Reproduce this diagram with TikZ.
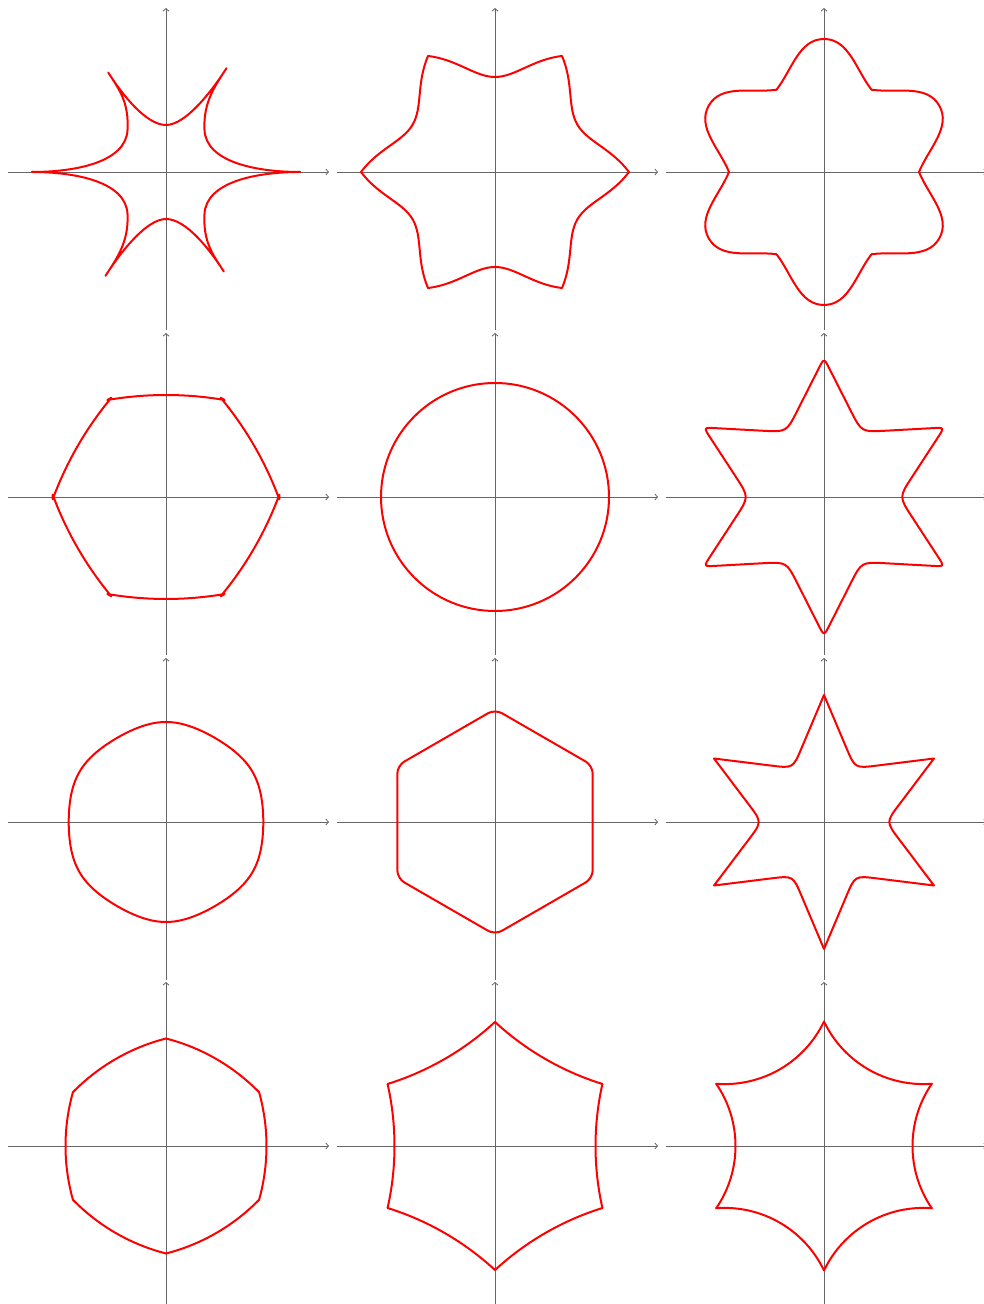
\documentclass[tikz,border=0pt]{standalone}
\usepackage{tikz}
\usetikzlibrary{calc,arrows.meta}

\newcommand{\panelaxes}{%
  \draw [axisline] (-158,0) -- (163,0);
  \draw [axisline] (0,-158) -- (0,164);}
% one quarter of the cusped star, cusp at (#2,#3)
\newcommand{\cuspquad}[3]{%
  \draw [curve,#1] (134,0) .. controls (90,0) and (40,10) .. (38.5,42)
    .. controls (37,70) and ({#2-11},{#3-17}) .. (#2,#3)
    .. controls ({#2-14},{#3-22}) and (20,47) .. (0,47);}
% tip at angle #1, radius #2, dips at +-30 with radius #3
\newcommand{\petal}[7]{%
  \draw [curve,rotate=#1] (-30:#3)
    .. controls ({#3*cos(30)+#7*cos(#6-30)},{-#3*sin(30)+#7*sin(#6-30)})
       and ({#2-#5*cos(#4)},{-#5*sin(#4)}) .. (#2,0)
    .. controls ({#2-#5*cos(#4)},{#5*sin(#4)})
       and ({#3*cos(30)+#7*cos(#6-30)},{#3*sin(30)-#7*sin(#6-30)}) .. (30:#3);}
\newcommand{\roundstar}[5]{%
  \draw [curve] ($(#1:#2)!#4!(#1+30:#3)$)
  \foreach \k in {0,...,5} {
    -- ($(#1+60*\k+30:#3)!#5!(#1+60*\k:#2)$)
    .. controls (#1+60*\k+30:#3) .. ($(#1+60*\k+30:#3)!#5!(#1+60*\k+60:#2)$)
    -- ($(#1+60*\k+60:#2)!#4!(#1+60*\k+30:#3)$)
    .. controls (#1+60*\k+60:#2) .. ($(#1+60*\k+60:#2)!#4!(#1+60*\k+90:#3)$)
  } -- cycle;}

\begin{document}
\begin{tikzpicture}[x=0.75pt,y=0.75pt,
    axisline/.style={black!60, line width=0.6pt, -{Straight Barb[length=2pt,width=4.5pt]}},
    curve/.style={red, line width=1.5pt, line join=round, line cap=round}]
  \useasboundingbox (0,0) rectangle (984,1304);

  % row 1
  \begin{scope}[shift={(166,1132)}]
    \panelaxes
    \foreach \r in {0,180} {
      \cuspquad{rotate=\r}{60.5}{103.8}
      \cuspquad{rotate=\r,xscale=-1}{57.8}{99.5}
    }
  \end{scope}
  \begin{scope}[shift={(495,1132)}]
    \panelaxes
    \foreach \a in {0,60,...,300} {\petal{\a}{134}{95}{53}{30}{90}{20}}
  \end{scope}
  \begin{scope}[shift={(824,1132)}]
    \panelaxes
    \foreach \a in {30,90,...,330} {\petal{\a}{133}{95}{90}{25}{68}{25}}
  \end{scope}

  % row 2
  \begin{scope}[shift={(166,807)}]
    \panelaxes
    \draw [curve] ({-244.2*cos(30)+346.2*cos(20.25)},{-244.2*sin(30)+346.2*sin(20.25)})
      \foreach \m in {30,90,...,330} {
        -- ({-244.2*cos(\m)+346.2*cos(\m-9.75)},{-244.2*sin(\m)+346.2*sin(\m-9.75)})
        arc [start angle=\m-9.75, end angle=\m+9.75, radius=346.2]
      } -- cycle;
  \end{scope}
  \begin{scope}[shift={(495,807)}]
    \panelaxes
    \draw [curve] (0,0) circle [radius=114];
  \end{scope}
  \begin{scope}[shift={(824,807)}]
    \panelaxes
    \roundstar{30}{139}{75}{9pt}{18pt}
  \end{scope}

  % row 3
  \begin{scope}[shift={(166,482)}]
    \panelaxes
    \draw [curve] plot [domain=0:360, samples=181, smooth, variable=\t]
      ({98.65*(cos(\t)-0.0137*cos(5*\t))},{98.65*(sin(\t)+0.0137*sin(5*\t))});
  \end{scope}
  \begin{scope}[shift={(495,482)}]
    \panelaxes
    \draw [curve, rounded corners=6pt] (30:112.8) -- (90:112.8) -- (150:112.8)
      -- (210:112.8) -- (270:112.8) -- (330:112.8) -- cycle;
  \end{scope}
  \begin{scope}[shift={(824,482)}]
    \panelaxes
    \roundstar{30}{127}{62}{0pt}{16.5pt}
  \end{scope}

  % row 4
  \begin{scope}[shift={(166,158)}]
    \panelaxes
    \foreach \m in {0,60,...,300} {
      \draw [curve] ({-98.4*cos(\m)+198.9*cos(\m-15.68)},{-98.4*sin(\m)+198.9*sin(\m-15.68)})
        arc [start angle=\m-15.68, end angle=\m+15.68, radius=198.9];
    }
  \end{scope}
  \begin{scope}[shift={(495,158)}]
    \panelaxes
    \foreach \m in {0,60,...,300} {
      \draw [curve] ({382.9*cos(\m)+282.4*cos(\m+192.68)},{382.9*sin(\m)+282.4*sin(\m+192.68)})
        arc [start angle=\m+192.68, end angle=\m+167.32, radius=282.4];
    }
  \end{scope}
  \begin{scope}[shift={(824,158)}]
    \panelaxes
    \foreach \m in {0,60,...,300} {
      \draw [curve] ({198.5*cos(\m)+110*cos(\m+214.46)},{198.5*sin(\m)+110*sin(\m+214.46)})
        arc [start angle=\m+214.46, end angle=\m+145.54, radius=110];
    }
  \end{scope}
\end{tikzpicture}
\end{document}
